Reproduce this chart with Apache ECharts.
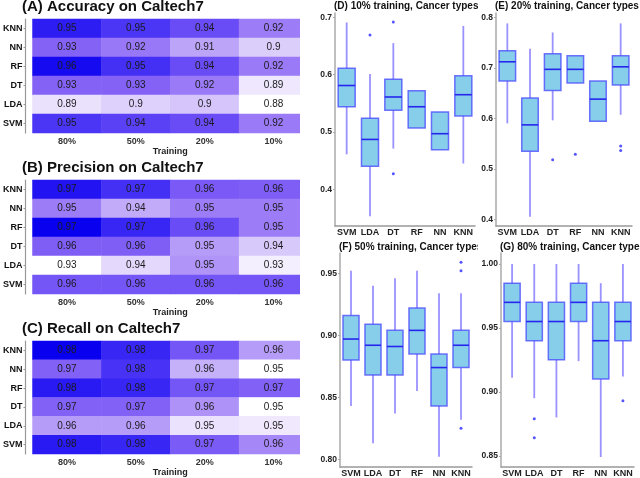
<!DOCTYPE html>
<html>
<head>
<meta charset="utf-8">
<script src="https://cdn.jsdelivr.net/npm/echarts@6.0.0/dist/echarts.min.js"></script>
<style>
  body { margin: 0; background: #fff; }
  .clip { position: absolute; overflow: hidden; }
</style>
</head>
<body>
<div class="clip" style="left:0;top:0;width:300px;height:478px"><div id="heat" style="width:320px;height:478px"></div></div>
<div class="clip" style="left:300px;top:0;width:178px;height:240px"><div id="boxD" style="width:180px;height:240px"></div></div>
<div class="clip" style="left:478px;top:0;width:162px;height:240px"><div id="boxE" style="width:170px;height:240px"></div></div>
<div class="clip" style="left:300px;top:240px;width:178px;height:238px"><div id="boxF" style="width:180px;height:238px"></div></div>
<div class="clip" style="left:478px;top:240px;width:162px;height:238px"><div id="boxG" style="width:170px;height:238px"></div></div>
<script>
// heatmaps (rows top -> bottom: KNN, NN, RF, DT, LDA, SVM; columns 80%, 50%, 20%, 10%)
const methods = ['KNN', 'NN', 'RF', 'DT', 'LDA', 'SVM'];
const trainSizes = ['80%', '50%', '20%', '10%'];
const accVals = [
  [0.954, 0.948, 0.940, 0.920],
  [0.930, 0.922, 0.910, 0.898],
  [0.958, 0.950, 0.940, 0.921],
  [0.930, 0.930, 0.921, 0.889],
  [0.891, 0.897, 0.901, 0.880],
  [0.948, 0.944, 0.940, 0.921]
];
const precVals = [
  [0.968, 0.965, 0.957, 0.956],
  [0.950, 0.944, 0.950, 0.950],
  [0.970, 0.966, 0.960, 0.950],
  [0.956, 0.956, 0.946, 0.940],
  [0.930, 0.937, 0.947, 0.933],
  [0.958, 0.958, 0.958, 0.958]
];
const recVals = [
  [0.980, 0.977, 0.971, 0.962],
  [0.969, 0.976, 0.960, 0.950],
  [0.978, 0.977, 0.971, 0.969],
  [0.969, 0.969, 0.963, 0.950],
  [0.962, 0.962, 0.954, 0.953],
  [0.978, 0.977, 0.970, 0.964]
];

// boxplots: [low whisker, Q1, median, Q3, high whisker] per classifier
const boxCats = ['SVM', 'LDA', 'DT', 'RF', 'NN', 'KNN'];
const box10 = [
  [0.461, 0.544, 0.581, 0.611, 0.691],
  [0.353, 0.440, 0.487, 0.524, 0.601],
  [0.471, 0.538, 0.561, 0.592, 0.655],
  [0.507, 0.507, 0.544, 0.572, 0.572],
  [0.469, 0.469, 0.497, 0.535, 0.535],
  [0.445, 0.528, 0.565, 0.598, 0.685]
];
const out10 = [[1, 0.669], [2, 0.692], [2, 0.427]];
const box20 = [
  [0.590, 0.674, 0.712, 0.734, 0.788],
  [0.405, 0.535, 0.587, 0.640, 0.738],
  [0.596, 0.655, 0.697, 0.728, 0.770],
  [0.670, 0.670, 0.697, 0.724, 0.724],
  [0.594, 0.594, 0.638, 0.674, 0.674],
  [0.607, 0.666, 0.702, 0.724, 0.788]
];
const out20 = [[2, 0.518], [3, 0.529], [5, 0.545], [5, 0.536]];
const box50 = [
  [0.843, 0.880, 0.897, 0.916, 0.952],
  [0.813, 0.868, 0.892, 0.909, 0.940],
  [0.837, 0.868, 0.891, 0.904, 0.946],
  [0.855, 0.885, 0.904, 0.922, 0.952],
  [0.802, 0.843, 0.874, 0.885, 0.934],
  [0.832, 0.874, 0.892, 0.904, 0.934]
];
const out50 = [[5, 0.959], [5, 0.952], [5, 0.825]];
const box80 = [
  [0.911, 0.955, 0.970, 0.985, 1.000],
  [0.895, 0.940, 0.955, 0.970, 1.000],
  [0.880, 0.925, 0.955, 0.970, 1.000],
  [0.924, 0.955, 0.970, 0.985, 1.000],
  [0.849, 0.910, 0.940, 0.970, 0.985],
  [0.912, 0.940, 0.955, 0.970, 1.000]
];
const out80 = [[1, 0.879], [1, 0.864], [5, 0.893]];

const ticks10 = [0.4, 0.5, 0.6, 0.7];
const ticks20 = [0.4, 0.5, 0.6, 0.7, 0.8];
const ticks50 = [0.80, 0.85, 0.90, 0.95];
const ticks80 = [0.85, 0.90, 0.95, 1.00];

const FONT = 'Liberation Sans';
const heatColors = ['#ffffff', '#ece4fd', '#d8c9fb', '#bca4f9', '#9d7df7', '#8462f6', '#6a4cf6', '#4430f5', '#0a00f0'];

// ---------- left column: three heatmaps ----------
const heatPanels = [
  { title: '(A) Accuracy on Caltech7', vals: accVals, top: 19, min: 0.88, max: 0.96 },
  { title: '(B) Precision on Caltech7', vals: precVals, top: 180, min: 0.93, max: 0.97 },
  { title: '(C) Recall on Caltech7', vals: recVals, top: 341, min: 0.95, max: 0.98 }
];
const yCats = methods.slice().reverse(); // SVM at bottom, KNN on top

let heatOpt = { animation: false, title: [], grid: [], xAxis: [], yAxis: [], visualMap: [], series: [] };
heatPanels.forEach(function (p, i) {
  heatOpt.title.push({
    text: p.title, left: 22, top: p.top - 20, padding: 0,
    textStyle: { fontFamily: FONT, fontSize: 15, fontWeight: 'bold', color: '#111' }
  });
  heatOpt.grid.push({ left: 28, top: p.top, width: 280, height: 114 });
  heatOpt.xAxis.push({
    type: 'category', gridIndex: i, data: trainSizes,
    name: 'Training', nameLocation: 'middle', nameGap: 14,
    nameTextStyle: { fontFamily: FONT, fontSize: 9, fontWeight: 'bold', color: '#222' },
    axisLine: { show: false }, axisTick: { show: false },
    axisLabel: { fontFamily: FONT, fontSize: 9, fontWeight: 'bold', color: '#333', margin: 4 }
  });
  heatOpt.yAxis.push({
    type: 'category', gridIndex: i, data: yCats, offset: 7,
    axisLine: { show: true, lineStyle: { color: '#999', width: 1.2 } },
    axisTick: { show: true, length: 2, alignWithLabel: true, lineStyle: { color: '#999' } },
    axisLabel: { fontFamily: FONT, fontSize: 9, fontWeight: 'bold', color: '#111', margin: 3 }
  });
  heatOpt.visualMap.push({
    show: false, seriesIndex: i, dimension: 2, min: p.min, max: p.max,
    inRange: { color: heatColors }
  });
  let data = [];
  p.vals.forEach(function (row, r) {
    row.forEach(function (v, c) {
      data.push([c, methods.length - 1 - r, v]);
    });
  });
  heatOpt.series.push({
    type: 'heatmap', xAxisIndex: i, yAxisIndex: i, data: data,
    label: {
      show: true, fontFamily: FONT, fontSize: 10, color: '#1a1a1a',
      formatter: function (d) { return String(Math.round(d.value[2] * 100) / 100); }
    }
  });
});
echarts.init(document.getElementById('heat')).setOption(heatOpt);

// ---------- right side: four box plots ----------
function renderBox(params, api) {
  let x = api.value(0);
  let low = api.coord([x, api.value(1)]);
  let q1 = api.coord([x, api.value(2)]);
  let med = api.coord([x, api.value(3)]);
  let q3 = api.coord([x, api.value(4)]);
  let high = api.coord([x, api.value(5)]);
  let half = api.size([1, 0])[0] * 0.365;
  let whisker = { stroke: 'rgba(120,110,255,0.75)', lineWidth: 1.8 };
  return {
    type: 'group',
    children: [
      { type: 'line', shape: { x1: low[0], y1: low[1], x2: q1[0], y2: q1[1] }, style: whisker },
      { type: 'line', shape: { x1: q3[0], y1: q3[1], x2: high[0], y2: high[1] }, style: whisker },
      {
        type: 'rect',
        shape: { x: q3[0] - half, y: q3[1], width: half * 2, height: q1[1] - q3[1] },
        style: { fill: '#87ceeb', stroke: 'rgba(70,70,255,0.75)', lineWidth: 1.5 }
      },
      {
        type: 'line', shape: { x1: med[0] - half, y1: med[1], x2: med[0] + half, y2: med[1] },
        style: { stroke: '#2626ee', lineWidth: 1.6 }
      }
    ]
  };
}

function boxChart(id, conf) {
  let chart = echarts.init(document.getElementById(id));
  let data = conf.box.map(function (b, i) { return [i].concat(b); });
  chart.setOption({
    animation: false,
    title: {
      text: conf.title, left: conf.left - 1, top: conf.titleTop, padding: 0,
      textStyle: { fontFamily: FONT, fontSize: 10, fontWeight: 'bold', color: '#111' }
    },
    grid: { left: conf.left, top: conf.top, width: conf.width, height: conf.height },
    xAxis: {
      type: 'category', data: boxCats,
      axisLine: { lineStyle: { color: '#999', width: 1.5 } },
      axisTick: { show: false },
      axisLabel: { fontFamily: FONT, fontSize: 9, fontWeight: 'bold', color: '#222', margin: 2, interval: 0 }
    },
    yAxis: {
      type: 'value', min: conf.min, max: conf.max,
      splitLine: { show: false },
      axisLine: { show: true, lineStyle: { color: '#aaa', width: 1.5 } },
      axisTick: { show: true, length: 2, customValues: conf.ticks, lineStyle: { color: '#aaa' } },
      axisLabel: {
        fontFamily: FONT, fontSize: 8.5, fontWeight: 'bold', color: '#222', margin: 3,
        customValues: conf.ticks,
        formatter: function (v) { return v.toFixed(conf.digits); }
      }
    },
    series: [
      { type: 'custom', renderItem: renderBox, data: data, encode: { x: 0, y: [1, 2, 3, 4, 5] } },
      { type: 'scatter', data: conf.out, symbolSize: 3, itemStyle: { color: '#2a2aff' } }
    ]
  });
}

boxChart('boxD', { title: '(D) 10% training, Cancer types', box: box10, out: out10, ticks: ticks10, digits: 1,
  left: 35, top: 13, width: 140, height: 213, min: 0.336, max: 0.7075, titleTop: 1 });
boxChart('boxE', { title: '(E) 20% training, Cancer types', box: box20, out: out20, ticks: ticks20, digits: 1,
  left: 18, top: 13, width: 136, height: 213, min: 0.3867, max: 0.8086, titleTop: 1 });
boxChart('boxF', { title: '(F) 50% training, Cancer types', box: box50, out: out50, ticks: ticks50, digits: 2,
  left: 40, top: 13, width: 132, height: 214, min: 0.7938, max: 0.9664, titleTop: 2 });
boxChart('boxG', { title: '(G) 80% training, Cancer types', box: box80, out: out80, ticks: ticks80, digits: 2,
  left: 23, top: 13, width: 133, height: 214, min: 0.8412, max: 1.0086, titleTop: 2 });
</script>
</body>
</html>
